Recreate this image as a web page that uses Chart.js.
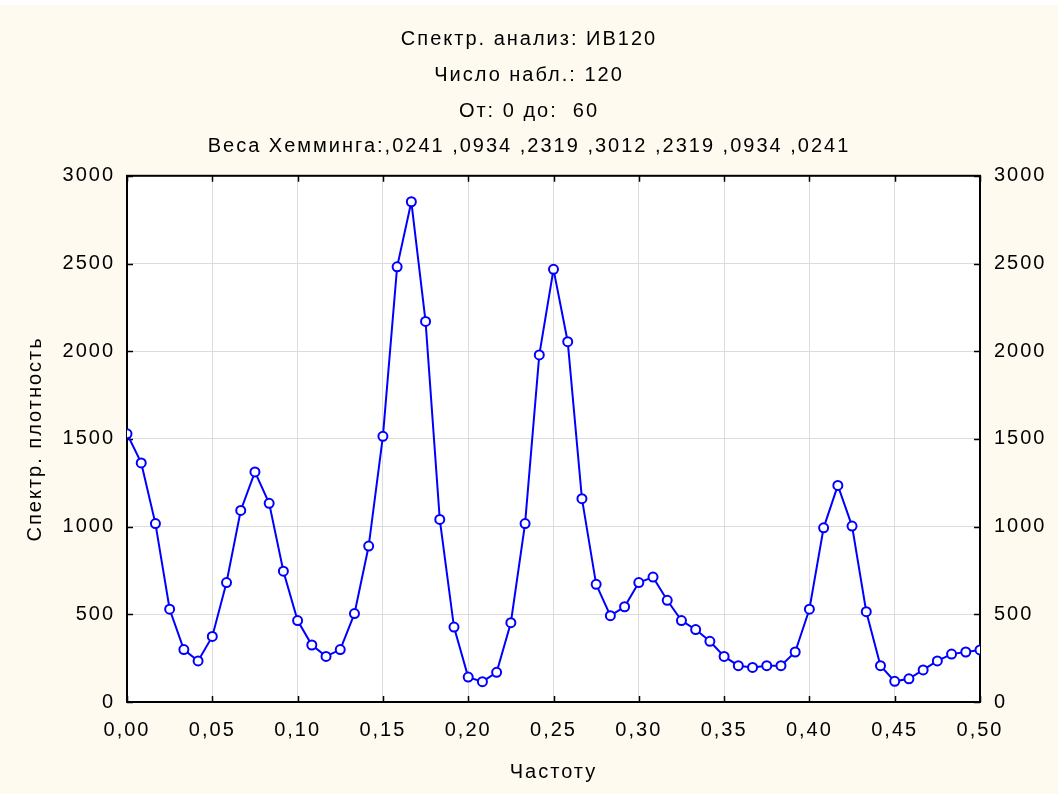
<!DOCTYPE html>
<html>
<head>
<meta charset="utf-8">
<script src="https://cdn.jsdelivr.net/npm/chart.js@4.4.1/dist/chart.umd.min.js"></script>
<style>
  body { margin: 0; background: #ffffff; }
</style>
</head>
<body>
<canvas id="spektr" width="1058" height="794"></canvas>
<script>
  // Число наблюдений (частота = k / N)
  const N = 120;

  // Спектральная плотность, k = 0..60
  const plotnost = [
    1529, 1363, 1017, 529, 299, 234, 374, 681, 1092, 1312,
    1133, 746, 464, 325, 260, 299, 504, 889, 1515, 2481,
    2852, 2170, 1041, 427, 142, 116, 169, 452, 1017, 1979,
    2467, 2054, 1159, 671, 492, 543, 681, 712, 580, 464,
    413, 346, 260, 207, 197, 207, 207, 285, 529, 993,
    1235, 1003, 515, 207, 118, 132, 183, 234, 273, 285,
    297
  ];

  const zagolovok = [
    'Спектр. анализ: ИВ120',
    'Число набл.: 120',
    'От: 0 до:  60',
    'Веса Хемминга:,0241 ,0934 ,2319 ,3012 ,2319 ,0934 ,0241'
  ];

  const tochki = plotnost.map((v, k) => ({ x: k / N, y: v }));

  const SHRIFT = 'Liberation Sans, Arial, sans-serif';
  const RAZRYADKA = '2px'; // текст в оригинале чуть разрежен

  // Фон, белое поле графика, рамка и внутренние засечки
  const ramka = {
    id: 'ramka',
    beforeInit(chart) { chart.ctx.letterSpacing = RAZRYADKA; },
    beforeUpdate(chart) { chart.ctx.letterSpacing = RAZRYADKA; },
    beforeDraw(chart) {
      const ctx = chart.ctx;
      const a = chart.chartArea;
      ctx.letterSpacing = RAZRYADKA;
      ctx.save();
      ctx.fillStyle = '#ffffff';
      ctx.fillRect(0, 0, chart.width, chart.height);
      ctx.fillStyle = '#fefaf0';
      ctx.fillRect(0, 5, chart.width, chart.height - 5);
      ctx.fillStyle = '#ffffff';
      ctx.fillRect(a.left, a.top, a.right - a.left, a.bottom - a.top);
      ctx.restore();
    },
    beforeDatasetsDraw(chart) {
      const ctx = chart.ctx;
      const a = chart.chartArea;
      const sx = chart.scales.x;
      const sy = chart.scales.y;
      ctx.save();
      ctx.strokeStyle = '#000000';
      ctx.lineWidth = 1.5;
      ctx.beginPath();
      sx.ticks.forEach(t => {
        const px = Math.round(sx.getPixelForValue(t.value)) + 0.5;
        ctx.moveTo(px, a.bottom); ctx.lineTo(px, a.bottom - 6);
        ctx.moveTo(px, a.top); ctx.lineTo(px, a.top + 6);
      });
      sy.ticks.forEach(t => {
        const py = Math.round(sy.getPixelForValue(t.value)) + 0.5;
        ctx.moveTo(a.left, py); ctx.lineTo(a.left + 6, py);
        ctx.moveTo(a.right, py); ctx.lineTo(a.right - 6, py);
      });
      ctx.stroke();
      ctx.lineWidth = 2;
      ctx.strokeRect(a.left, a.top, a.right - a.left, a.bottom - a.top);
      ctx.restore();
    }
  };

  const osY = (poz, shirina) => ({
    position: poz,
    min: 0,
    max: 3000,
    afterFit: s => { s.width = shirina; },
    grid: { display: poz === 'left', color: '#dcdcdc', lineWidth: 1, drawTicks: false },
    border: { display: false },
    ticks: {
      stepSize: 500,
      padding: poz === 'left' ? 12 : 14,
      color: '#000000',
      font: { family: SHRIFT, size: 20 },
      callback: v => String(v)
    }
  });

  const ctx = document.getElementById('spektr').getContext('2d');
  ctx.letterSpacing = RAZRYADKA;

  new Chart(ctx, {
    type: 'line',
    data: {
      datasets: [{
        data: tochki,
        borderColor: '#0000ff',
        borderWidth: 2,
        pointRadius: 4.5,
        pointBorderWidth: 2,
        pointBorderColor: '#0000ff',
        pointBackgroundColor: '#ffffff',
        tension: 0,
        yAxisID: 'y'
      }]
    },
    options: {
      responsive: false,
      animation: false,
      devicePixelRatio: 1,
      layout: { padding: 0 },
      plugins: {
        legend: { display: false },
        tooltip: { enabled: false },
        title: {
          display: true,
          text: zagolovok,
          color: '#000000',
          font: { family: SHRIFT, size: 20, weight: 'normal', lineHeight: 1.785 },
          padding: { top: 22, bottom: 11 }
        }
      },
      scales: {
        x: {
          type: 'linear',
          min: 0,
          max: 0.5,
          afterFit: s => { s.height = 92; },
          grid: { color: '#dcdcdc', lineWidth: 1, drawTicks: false },
          border: { display: false },
          ticks: {
            stepSize: 0.05,
            padding: 16,
            maxRotation: 0,
            autoSkip: false,
            color: '#000000',
            font: { family: SHRIFT, size: 20 },
            callback: v => v.toFixed(2).replace('.', ',')
          },
          title: {
            display: true,
            text: 'Частоту',
            color: '#000000',
            font: { family: SHRIFT, size: 20 },
            padding: { top: 10, bottom: 10 }
          }
        },
        y: Object.assign(osY('left', 127), {
          title: {
            display: true,
            text: 'Спектр. плотность',
            color: '#000000',
            font: { family: SHRIFT, size: 20 },
            padding: { top: 23, bottom: 4 }
          }
        }),
        y2: osY('right', 78)
      }
    },
    plugins: [ramka]
  });
</script>
</body>
</html>
